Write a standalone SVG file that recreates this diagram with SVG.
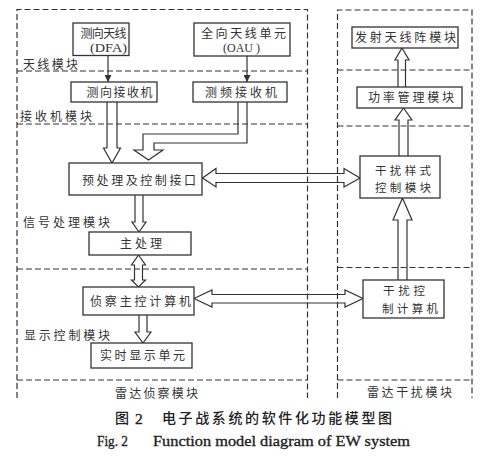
<svg xmlns="http://www.w3.org/2000/svg" width="485" height="456" viewBox="0 0 485 456">
<defs>
<style>
.bg{fill:#ffffff}
.dash{fill:none;stroke:#333;stroke-width:1.2;stroke-dasharray:6 3}
.box{fill:#ffffff;stroke:#333;stroke-width:1.3}
.arr{fill:none;stroke:#333;stroke-width:1.2;stroke-linejoin:miter}
.t{font-family:"Noto Sans CJK SC","Noto Sans CJK JP",sans-serif;font-size:12px;fill:#333}
.t2{font-family:"Noto Sans CJK SC","Noto Sans CJK JP",sans-serif;font-size:11.5px;fill:#333}
.lat{font-family:"Liberation Serif",serif;font-size:12.5px;fill:#333}
.cap{font-family:"Noto Sans CJK SC",sans-serif;font-size:14px;fill:#222;font-weight:500}
.capen{font-family:"Liberation Serif",serif;font-size:15.5px;fill:#222;stroke:#222;stroke-width:0.35}
</style>
<marker id="tri" viewBox="0 0 10 10" refX="10" refY="5" markerWidth="7" markerHeight="7" markerUnits="userSpaceOnUse" orient="auto">
<path d="M0,0 L10,5 L0,10 z" fill="#333"/>
</marker>
</defs>
<rect class="bg" x="0" y="0" width="485" height="456"/>

<g id="frames">
<path class="dash" d="M17,398 V9.5 H307.5 V398"/>
<path class="dash" d="M17,71 H307.5 M17,124 H307.5 M17,269 H307.5 M17,380 H307.5"/>
<path class="dash" d="M337.5,398 V10 H472 V398"/>
<path class="dash" d="M337.5,70 H472 M337.5,126 H472 M337.5,267.5 H472 M337.5,380 H472"/>
</g>

<g id="connectors">
<line class="arr" x1="108" y1="55" x2="108" y2="82" marker-end="url(#tri)"/>
<line class="arr" x1="247" y1="56" x2="247" y2="82" marker-end="url(#tri)"/>
<polyline class="arr" points="107,102 107,148 103.5,148 112,163 120.5,148 117,148 117,102"/>
<polyline class="arr" points="238,102 238,134 143,134 143,150 134,150 148.5,160 163,150 154,150 154,143 247,143 247,102"/>
<polygon class="arr" points="202.5,178 216,168.5 216,173.5 344,173.5 344,168.5 360,178 344,187 344,182.5 216,182.5 216,187"/>
<polyline class="arr" points="135,195 135,222 132,222 139,232 146,222 143,222 143,195"/>
<polygon class="arr" points="138.5,255 145.5,265 142.5,265 142.5,280 145.5,280 138.5,287 131.5,280 134.5,280 134.5,265 131.5,265"/>
<polyline class="arr" points="139,315 139,332 135,332 143,343 151,332 147,332 147,315"/>
<polygon class="arr" points="194,298.5 212,290 212,294.5 345,294.5 345,290 363,298.5 345,307 345,303 212,303 212,307"/>
<polyline class="arr" points="398,280 398,220 393,220 402.5,198 412,220 407,220 407,280"/>
<polyline class="arr" points="399,156 399,120 395,120 403.5,108 412,120 408,120 408,156"/>
<polyline class="arr" points="398,87 398,60 395,60 402,48 409,60 405.5,60 405.5,87"/>
</g>

<g id="n_dfa">
<rect class="box" x="73" y="23" width="56" height="32.5"/>
<text class="t" x="80.5" y="37.5" textLength="46" lengthAdjust="spacing">测向天线</text>
<text class="lat" x="90" y="51.5" textLength="37" lengthAdjust="spacingAndGlyphs">(DFA)</text>
</g>
<g id="n_oau">
<rect class="box" x="194" y="23" width="96" height="33"/>
<text class="t" x="201" y="37.5" textLength="85" lengthAdjust="spacing">全向天线单元</text>
<text class="lat" x="223" y="51.5" textLength="37" lengthAdjust="spacingAndGlyphs">(OAU )</text>
</g>
<g id="n_dfrx">
<rect class="box" x="71" y="82" width="86" height="20"/>
<text class="t" x="86.5" y="96.5" textLength="66" lengthAdjust="spacing">测向接收机</text>
</g>
<g id="n_frrx">
<rect class="box" x="193" y="82" width="94" height="20"/>
<text class="t" x="205" y="96.5" textLength="72" lengthAdjust="spacing">测频接收机</text>
</g>
<g id="n_pre">
<rect class="box" x="69" y="163" width="133" height="32"/>
<text class="t" x="82" y="184.5" textLength="114" lengthAdjust="spacing">预处理及控制接口</text>
</g>
<g id="n_main">
<rect class="box" x="89" y="232" width="102" height="23"/>
<text class="t" x="120" y="248" textLength="42" lengthAdjust="spacing">主处理</text>
</g>
<g id="n_recon">
<rect class="box" x="83" y="287" width="111" height="28"/>
<text class="t" x="90" y="306" textLength="101" lengthAdjust="spacing">侦察主控计算机</text>
</g>
<g id="n_disp">
<rect class="box" x="91" y="343" width="101" height="25"/>
<text class="t" x="100" y="360" textLength="85" lengthAdjust="spacing">实时显示单元</text>
</g>
<g id="n_tx">
<rect class="box" x="352" y="27" width="106" height="21"/>
<text class="t" x="355" y="42" textLength="101" lengthAdjust="spacing">发射天线阵模块</text>
</g>
<g id="n_pwr">
<rect class="box" x="357" y="87" width="105" height="21"/>
<text class="t" x="368" y="102" textLength="86" lengthAdjust="spacing">功率管理模块</text>
</g>
<g id="n_jamstyle">
<rect class="box" x="360" y="156" width="80" height="42"/>
<text class="t2" x="375" y="174.5" textLength="56" lengthAdjust="spacing">干扰样式</text>
<text class="t2" x="375" y="192" textLength="56" lengthAdjust="spacing">控制模块</text>
</g>
<g id="n_jamcomp">
<rect class="box" x="363" y="280" width="81" height="38"/>
<text class="t2" x="383" y="295" textLength="42" lengthAdjust="spacing">干扰控</text>
<text class="t2" x="382" y="312.5" textLength="56" lengthAdjust="spacing">制计算机</text>
</g>

<g id="labels">
<text class="t" x="23" y="68.5" textLength="55" lengthAdjust="spacing">天线模块</text>
<text class="t" x="20" y="121" textLength="72" lengthAdjust="spacing">接收机模块</text>
<text class="t" x="23" y="226.5" textLength="87" lengthAdjust="spacing">信号处理模块</text>
<text class="t" x="24" y="339.5" textLength="86" lengthAdjust="spacing">显示控制模块</text>
<text class="t" x="115" y="397.5" textLength="83" lengthAdjust="spacing">雷达侦察模块</text>
<text class="t" x="367" y="396.5" textLength="85" lengthAdjust="spacing">雷达干扰模块</text>
</g>

<g id="caption">
<text class="cap" x="115" y="423">图</text>
<text class="capen" x="135" y="423.5">2</text>
<text class="cap" x="162" y="423" textLength="230" lengthAdjust="spacing">电子战系统的软件化功能模型图</text>
<text class="capen" x="97" y="446" textLength="31" lengthAdjust="spacingAndGlyphs">Fig. 2</text>
<text class="capen" x="153" y="446" textLength="257" lengthAdjust="spacingAndGlyphs">Function model diagram of EW system</text>
</g>
</svg>
